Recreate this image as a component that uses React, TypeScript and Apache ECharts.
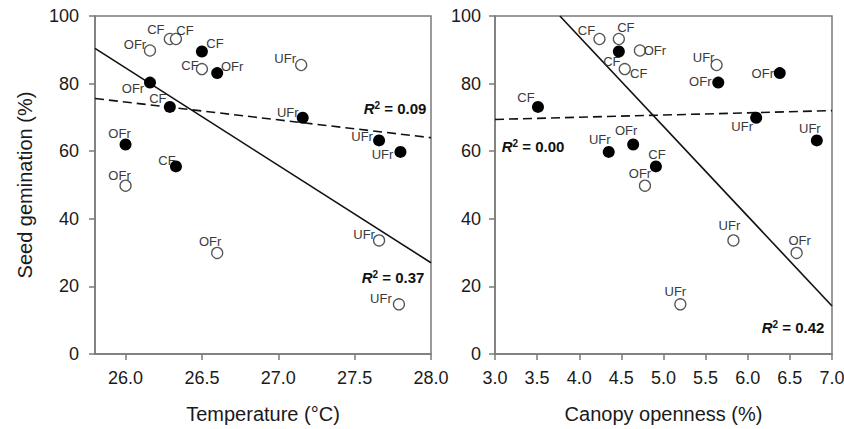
import React, { useEffect, useRef } from "react";
import * as echarts from "echarts";

// Germination (%) shared by both panels
const germFilled = [89.5, 83.1, 80.3, 73.1, 62.0, 55.5, 69.9, 63.2, 59.8];
const siteFilled = ["CF", "OFr", "OFr", "CF", "OFr", "CF", "UFr", "UFr", "UFr"];
const tempFilled = [26.5, 26.6, 26.16, 26.29, 26.0, 26.33, 27.16, 27.66, 27.8];
const canopyFilled = [4.47, 6.38, 5.65, 3.51, 4.64, 4.91, 6.1, 6.82, 4.35];

const germOpen = [89.8, 93.2, 93.2, 84.3, 49.8, 29.9, 85.5, 33.6, 14.7];
const siteOpen = ["OFr", "CF", "CF", "CF", "OFr", "OFr", "UFr", "UFr", "UFr"];
const tempOpen = [26.16, 26.29, 26.33, 26.5, 26.0, 26.6, 27.15, 27.66, 27.79];
const canopyOpen = [4.72, 4.24, 4.47, 4.54, 4.78, 6.58, 5.63, 5.83, 5.2];

// Regression lines (endpoints)
const tempSolid = [[25.8, 90.4], [28.0, 27.0]];
const tempDashed = [[25.8, 75.6], [28.0, 64.0]];
const canopySolid = [[3.77, 100], [7.0, 14.2]];
const canopyDashed = [[3.0, 69.4], [7.0, 72.0]];

const tempTicks = [26.0, 26.5, 27.0, 27.5, 28.0];
const r2Labels = ["0.09", "0.37", "0.00", "0.42"];

// label offsets (style)
const offTempFilled = [[13, -8], [15, -7], [-17, 6], [-12, -8], [-6, -11], [-9, -6], [-15, -5], [-17, -4], [-18, 3]];
const offTempOpen = [[-15, -6], [-14, -9], [9, -8], [-12, -4], [-6, -10], [-7, -11], [-16, -7], [-15, -6], [-18, -6]];
const offCanFilled = [[-7, 10], [-17, 0], [-18, -1], [-12, -9], [-7, -14], [1, -12], [-14, 9], [-7, -12], [-9, -12]];
const offCanOpen = [[15, 0], [-13, -8], [7, -11], [14, 4], [-5, -12], [3, -12], [-13, -8], [-4, -15], [-5, -13]];

const FONT = "'Liberation Sans', Arial, Helvetica, sans-serif";

function pts(xs: number[], ys: number[], names: string[], offs: number[][]) {
  return xs.map((x, i) => ({
    value: [x, ys[i]],
    name: names[i],
    label: { offset: offs[i] },
  }));
}

export default function App() {
  const ref = useRef<HTMLDivElement>(null);
  useEffect(() => {
    document.body.style.margin = "0";
    const chart = echarts.init(ref.current!, undefined, { renderer: "svg" });
    const axisLine = { show: true, lineStyle: { color: "#7a7a7a", width: 1.5 } };
    const tick = { show: true, inside: false, length: 6, lineStyle: { color: "#7a7a7a", width: 1.5 } };
    const lbl = { color: "#1a1a1a", fontSize: 18, fontFamily: FONT };
    const ptLabel = {
      show: true,
      position: "inside",
      formatter: (p: any) => p.name,
      color: "#3a3a3a",
      fontSize: 13,
      fontFamily: FONT,
      textBorderWidth: 0,
      textBorderColor: "transparent",
      textShadowBlur: 0,
    };
    const filledStyle = { color: "#000", opacity: 1 };
    const openStyle = { color: "#fff", borderColor: "#555", borderWidth: 1.3, opacity: 1 };
    const lineSolid = { color: "#111", width: 1.6, type: "solid" };
    const lineDash = { color: "#111", width: 1.6, type: [9, 5] };
    const r2 = (txt: string, x: number, y: number) => ({
      type: "text",
      x,
      y,
      style: {
        text: `{r|R}{s|2}{n| = ${txt}}`,
        align: "center",
        verticalAlign: "middle",
        fill: "#111",
        rich: {
          r: { fontSize: 15, fontWeight: "bold", fontStyle: "italic", fontFamily: FONT, fill: "#111" },
          s: { fontSize: 10, fontWeight: "bold", fontFamily: FONT, verticalAlign: "top", fill: "#111" },
          n: { fontSize: 15, fontWeight: "bold", fontFamily: FONT, fill: "#111" },
        },
      },
    });

    chart.setOption({
      animation: false,
      backgroundColor: "#fff",
      textStyle: { fontFamily: FONT },
      grid: [
        { left: 95, top: 16, width: 336, height: 338, show: true, borderColor: "#7a7a7a", borderWidth: 1.5, outerBoundsMode: "none" },
        { left: 495, top: 16, width: 337, height: 338, show: true, borderColor: "#7a7a7a", borderWidth: 1.5, outerBoundsMode: "none" },
      ],
      xAxis: [
        {
          type: "value",
          gridIndex: 0,
          min: 25.8,
          max: 28.0,
          axisLine,
          axisTick: { ...tick, customValues: tempTicks },
          axisLabel: { ...lbl, margin: 15, customValues: tempTicks, formatter: (v: number) => v.toFixed(1) },
          splitLine: { show: false },
          name: "Temperature (°C)",
          nameLocation: "middle",
          nameGap: 50,
          nameTextStyle: { color: "#1a1a1a", fontSize: 20, fontFamily: FONT },
        },
        {
          type: "value",
          gridIndex: 1,
          min: 3.0,
          max: 7.0,
          interval: 0.5,
          axisLine,
          axisTick: tick,
          axisLabel: { ...lbl, margin: 15, formatter: (v: number) => v.toFixed(1) },
          splitLine: { show: false },
          name: "Canopy openness (%)",
          nameLocation: "middle",
          nameGap: 50,
          nameTextStyle: { color: "#1a1a1a", fontSize: 20, fontFamily: FONT },
        },
      ],
      yAxis: [
        {
          type: "value",
          gridIndex: 0,
          min: 0,
          max: 100,
          interval: 20,
          axisLine,
          axisTick: tick,
          axisLabel: { ...lbl, margin: 16 },
          splitLine: { show: false },
          name: "Seed gemination (%)",
          nameLocation: "middle",
          nameGap: 60,
          nameTextStyle: { color: "#1a1a1a", fontSize: 20, fontFamily: FONT },
        },
        {
          type: "value",
          gridIndex: 1,
          min: 0,
          max: 100,
          interval: 20,
          axisLine,
          axisTick: tick,
          axisLabel: { ...lbl, margin: 14 },
          splitLine: { show: false },
        },
      ],
      series: [
        { type: "line", xAxisIndex: 0, yAxisIndex: 0, data: tempSolid, symbol: "none", lineStyle: lineSolid, z: 1 },
        { type: "line", xAxisIndex: 0, yAxisIndex: 0, data: tempDashed, symbol: "none", lineStyle: lineDash, z: 1 },
        { type: "line", xAxisIndex: 1, yAxisIndex: 1, data: canopySolid, symbol: "none", lineStyle: lineSolid, z: 1 },
        { type: "line", xAxisIndex: 1, yAxisIndex: 1, data: canopyDashed, symbol: "none", lineStyle: lineDash, z: 1 },
        {
          type: "scatter", xAxisIndex: 0, yAxisIndex: 0, symbolSize: 12, itemStyle: filledStyle, label: ptLabel, z: 3,
          data: pts(tempFilled, germFilled, siteFilled, offTempFilled),
        },
        {
          type: "scatter", xAxisIndex: 0, yAxisIndex: 0, symbolSize: 11, itemStyle: openStyle, label: ptLabel, z: 3,
          data: pts(tempOpen, germOpen, siteOpen, offTempOpen),
        },
        {
          type: "scatter", xAxisIndex: 1, yAxisIndex: 1, symbolSize: 12, itemStyle: filledStyle, label: ptLabel, z: 3,
          data: pts(canopyFilled, germFilled, siteFilled, offCanFilled),
        },
        {
          type: "scatter", xAxisIndex: 1, yAxisIndex: 1, symbolSize: 11, itemStyle: openStyle, label: ptLabel, z: 3,
          data: pts(canopyOpen, germOpen, siteOpen, offCanOpen),
        },
      ],
      graphic: [
        r2(r2Labels[0], 395, 108),
        r2(r2Labels[1], 393, 277),
        r2(r2Labels[2], 533, 146),
        r2(r2Labels[3], 793, 327),
      ],
    });
    return () => chart.dispose();
  }, []);
  return <div ref={ref} style={{ width: 844, height: 429 }} />;
}
